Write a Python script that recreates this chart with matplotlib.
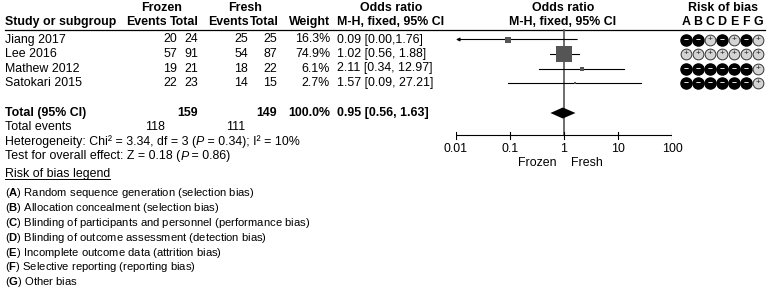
import matplotlib
matplotlib.use('Agg')
import matplotlib.pyplot as plt
import numpy as np

plt.rcParams['font.family'] = ['Liberation Sans', 'DejaVu Sans']
plt.rcParams['mathtext.fontset'] = 'custom'
plt.rcParams['mathtext.rm'] = 'Liberation Sans'
plt.rcParams['mathtext.it'] = 'Liberation Sans:italic'
plt.rcParams['mathtext.bf'] = 'Liberation Sans:bold'

# data
studies = ['Jiang 2017', 'Lee 2016', 'Mathew 2012', 'Satokari 2015']
frozen_events = [20, 57, 19, 22]
frozen_total = [24, 91, 21, 23]
fresh_events = [25, 54, 18, 14]
fresh_total = [25, 87, 22, 15]
weights = [16.3, 74.9, 6.1, 2.7]
odds = [0.09, 1.02, 2.11, 1.57]
ci_lo = [0.00, 0.56, 0.34, 0.09]
ci_hi = [1.76, 1.88, 12.97, 27.21]
ci_labels = ['0.09 [0.00,1.76]', '1.02 [0.56, 1.88]', '2.11 [0.34, 12.97]', '1.57 [0.09, 27.21]']
rob = [['-', '-', '+', '-', '+', '-', '+'],
       ['+', '+', '+', '+', '+', '+', '+'],
       ['-', '-', '-', '-', '-', '-', '+'],
       ['-', '-', '-', '-', '-', '-', '+']]
rob_domains = ['A', 'B', 'C', 'D', 'E', 'F', 'G']
total_or, total_lo, total_hi = 0.95, 0.56, 1.63
total_frozen, total_fresh = 159, 149
events_frozen, events_fresh = 118, 111
ticks = [0.01, 0.1, 1, 10, 100]
tick_labels = ['0.01', '0.1', '1', '10', '100']
legend_items = ['Random sequence generation (selection bias)',
                'Allocation concealment (selection bias)',
                'Blinding of participants and personnel (performance bias)',
                'Blinding of outcome assessment (detection bias)',
                'Incomplete outcome data (attrition bias)',
                'Selective reporting (reporting bias)',
                'Other bias']

W, H = 768, 293
fig = plt.figure(figsize=(W / 100, H / 100), dpi=100)
ax = fig.add_axes([0, 0, 1, 1])
ax.set_xlim(0, W)
ax.set_ylim(H, 0)
ax.axis('off')

fax = fig.add_axes([456 / W, 0, 216 / W, 1])
fax.set_xscale('log')
fax.set_xlim(0.01, 100)
fax.set_ylim(H, 0)
fax.axis('off')
fax.patch.set_alpha(0)

fs = 8.9
bold = dict(fontsize=fs, fontweight='bold', va='center')
norm = dict(fontsize=fs, va='center')


def rich(x, y, parts, size=fs):
    # draw text pieces one after another, each with its own style
    prev = ax.text(x, y, parts[0][0], ha='left', va='center', fontsize=size,
                   fontstyle=parts[0][1])
    for s, style in parts[1:]:
        prev = ax.annotate(s, xy=(1, 0), xycoords=prev, ha='left', va='bottom',
                           fontsize=size, fontstyle=style)
    return prev


# headers
ax.text(162, 8, 'Frozen', ha='center', **bold)
ax.text(245, 8, 'Fresh', ha='center', **bold)
ax.text(391, 8, 'Odds ratio', ha='center', **bold)
ax.text(563, 8, 'Odds ratio', ha='center', **bold)
ax.text(723, 8, 'Risk of bias', ha='center', **bold)
ax.text(5, 22, 'Study or subgroup', ha='left', **bold)
ax.text(166.5, 22, 'Events', ha='right', **bold)
ax.text(199, 22, 'Total', ha='right', **bold)
ax.text(248.5, 22, 'Events', ha='right', **bold)
ax.text(279, 22, 'Total', ha='right', **bold)
ax.text(330, 22, 'Weight', ha='right', **bold)
ax.text(391, 22, 'M-H, fixed, 95% CI', ha='center', **bold)
ax.text(563, 22, 'M-H, fixed, 95% CI', ha='center', **bold)
rob_x = 686 + 12 * np.arange(len(rob_domains))
for x, d in zip(rob_x, rob_domains):
    ax.text(x, 22, d, ha='center', **bold)
ax.plot([5, 765], [30, 30], color='black', lw=0.9)

# study rows
row_y = 39.5 + 14.5 * np.arange(len(studies))
for i, y in enumerate(row_y):
    ax.text(5, y, studies[i], ha='left', **norm)
    ax.text(177, y, str(frozen_events[i]), ha='right', **norm)
    ax.text(198, y, str(frozen_total[i]), ha='right', **norm)
    ax.text(248, y, str(fresh_events[i]), ha='right', **norm)
    ax.text(277, y, str(fresh_total[i]), ha='right', **norm)
    ax.text(330, y, f'{weights[i]:.1f}%', ha='right', **norm)
    ax.text(337, y, ci_labels[i], ha='left', **norm)

    lo = max(ci_lo[i], 0.01)
    if ci_lo[i] < 0.01:
        fax.annotate('', xy=(0.01, y), xytext=(ci_hi[i], y),
                     arrowprops=dict(arrowstyle='-|>', lw=0.8, color='black',
                                     mutation_scale=5, shrinkA=0, shrinkB=0))
    else:
        fax.plot([lo, ci_hi[i]], [y, y], color='black', lw=0.8, zorder=2)
    side = (2 + 0.188 * weights[i]) * 0.72
    fax.plot(odds[i], y, marker='s', ms=side, color='#555555', mec='#555555',
             mew=0, zorder=3, clip_on=False)

    for j, x in enumerate(rob_x):
        if rob[i][j] == '-':
            ax.scatter(x, y, s=64, color='black', zorder=3)
            ax.text(x, y, '−', ha='center', va='center', color='white',
                    fontsize=6, fontweight='bold', zorder=4)
        else:
            ax.scatter(x, y, s=60, color='#d4d4d4', edgecolor='#333333',
                       linewidth=0.7, zorder=3)
            ax.text(x, y - 0.3, '+', ha='center', va='center', color='#222222',
                    fontsize=6, zorder=4)

# total row
ty = 113
ax.text(5, ty, 'Total (95% CI)', ha='left', **bold)
ax.text(198, ty, str(total_frozen), ha='right', **bold)
ax.text(277, ty, str(total_fresh), ha='right', **bold)
ax.text(330, ty, f'{sum(weights):.1f}%', ha='right', **bold)
ax.text(337, ty, f'{total_or:.2f} [{total_lo:.2f}, {total_hi:.2f}]', ha='left', **bold)
fax.fill([total_lo, total_or, total_hi, total_or], [ty, ty - 5.5, ty, ty + 5.5],
         color='black', zorder=3, lw=0)

ax.text(5, 127, 'Total events', ha='left', **norm)
ax.text(165, 127, str(events_frozen), ha='right', **norm)
ax.text(245, 127, str(events_fresh), ha='right', **norm)
rich(5, 142, [('Heterogeneity: Chi² = 3.34, df = 3 (', 'normal'), ('P', 'italic'),
              (' = 0.34); I² = 10%', 'normal')])
rich(5, 156.5, [('Test for overall effect: Z = 0.18 (', 'normal'), ('P', 'italic'),
                (' = 0.86)', 'normal')])

# forest axis
axis_y = 135
fax.plot([1, 1], [30, axis_y], color='#555555', lw=1.2, zorder=1)
fax.plot([ticks[0], ticks[-1]], [axis_y, axis_y], color='black', lw=0.8)
for t, lab in zip(ticks, tick_labels):
    fax.plot([t, t], [axis_y - 3.5, axis_y + 3.5], color='black', lw=0.8)
    fax.text(t, 148.5, lab, ha='center', **norm)
fax.text(0.72, 163, 'Frozen', ha='right', **norm)
fax.text(1.35, 163, 'Fresh', ha='left', **norm)

# risk of bias legend
ly = 174
lt = ax.text(5, ly, 'Risk of bias legend', ha='left', **norm)
fig.canvas.draw()
bb = lt.get_window_extent().transformed(ax.transData.inverted())
ax.plot([5, bb.x1], [179, 179], color='black', lw=0.7)
for k, (d, item) in enumerate(zip(rob_domains, legend_items)):
    ax.text(5, 193 + 14.9 * k, f'($\\mathbf{{{d}}}$) {item}', ha='left',
            fontsize=8.1, va='center')

fig.savefig('out.png', dpi=100)
